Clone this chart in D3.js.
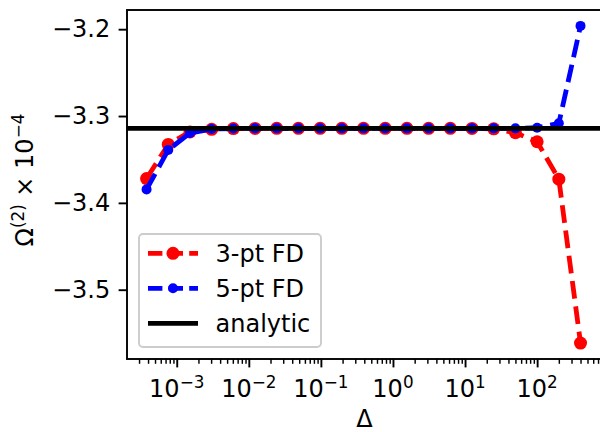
<!DOCTYPE html>
<html>
<head>
<meta charset="utf-8">
<script src="https://cdn.jsdelivr.net/npm/d3@7"></script>
<style>
  body { margin: 0; background: #fff; }
  text { font-family: "DejaVu Sans", sans-serif; fill: #000; }
</style>
</head>
<body>
<svg width="600" height="432"></svg>
<script>
// step sizes (Delta), halving each time
var delta = [0.000381469726562, 0.000762939453125, 0.00152587890625, 0.0030517578125,
  0.006103515625, 0.01220703125, 0.0244140625, 0.048828125, 0.09765625, 0.1953125,
  0.390625, 0.78125, 1.5625, 3.125, 6.25, 12.5, 25, 50, 100, 200, 400];

// Omega^(2) x 10^-4
var fd3 = [-3.3720, -3.3327, -3.3183, -3.3153, -3.3145, -3.3143, -3.3142, -3.3142,
  -3.3142, -3.3142, -3.3142, -3.3142, -3.3142, -3.3142, -3.3142, -3.3143, -3.3147,
  -3.3192, -3.3296, -3.3727, -3.5615];
var fd5 = [-3.3845, -3.3390, -3.3195, -3.3150, -3.3144, -3.3142, -3.3142, -3.3142,
  -3.3142, -3.3142, -3.3142, -3.3142, -3.3142, -3.3142, -3.3142, -3.3142, -3.3142,
  -3.3142, -3.3135, -3.3084, -3.1962];
var analytic = -3.3142;

var yTicks = [-3.2, -3.3, -3.4, -3.5];
var xTickPowers = [-3, -2, -1, 0, 1, 2];
var seriesNames = ["3-pt FD", "5-pt FD", "analytic"];

var svg = d3.select("svg");
var axLeft = 127, axTop = 10, axRight = 602, axBottom = 359;
var fontSize = 24, supSize = 16.8, supShift = 8.7;
var lw = 4.8, dash = "17.8,7.7";

var x = d3.scaleLog().domain([Math.pow(10, -3.69), Math.pow(10, 2.90)]).range([axLeft, axRight]);
var y = d3.scaleLinear().domain([-3.5798, -3.1779]).range([axBottom, axTop]);

//writes a text made of normal and superscript parts
function mathText(sel, parts) {
  var shifted = false;
  parts.forEach(function (p) {
    var t = sel.append("tspan").text(p[0]);
    if (p[1]) {
      t.attr("font-size", supSize).attr("dy", shifted ? 0 : -supShift);
      shifted = true;
    } else {
      t.attr("font-size", fontSize);
      if (shifted) t.attr("dy", supShift);
      shifted = false;
    }
  });
}

// x ticks: majors at powers of ten, minors on 2..9
var majors = xTickPowers.map(function (p) { return Math.pow(10, p); });
var minors = x.ticks().filter(function (v) {
  var m = Math.round(v / Math.pow(10, Math.floor(Math.log10(v) + 1e-9)));
  return m !== 1;
});

svg.append("g")
  .attr("transform", "translate(0," + axBottom + ")")
  .call(d3.axisBottom(x).tickValues(minors).tickSize(4.8).tickSizeOuter(0).tickFormat(""))
  .call(function (g) {
    g.select(".domain").remove();
    g.selectAll("line").attr("stroke", "#000").attr("stroke-width", 1.44);
  });

var xAxis = svg.append("g")
  .attr("transform", "translate(0," + axBottom + ")")
  .call(d3.axisBottom(x).tickValues(majors).tickSize(8.4).tickSizeOuter(0).tickFormat(""));
xAxis.select(".domain").remove();
xAxis.selectAll("line").attr("stroke", "#000").attr("stroke-width", 1.9);

xTickPowers.forEach(function (p) {
  var t = svg.append("text")
    .attr("x", x(Math.pow(10, p)))
    .attr("y", 396.7)
    .attr("text-anchor", "middle");
  mathText(t, [["10", false], [(p < 0 ? "\u2212" : "") + Math.abs(p), true]]);
});

// y ticks
var yAxis = svg.append("g")
  .attr("transform", "translate(" + axLeft + ",0)")
  .call(d3.axisLeft(y).tickValues(yTicks).tickSize(8.4).tickSizeOuter(0).tickPadding(8.4)
    .tickFormat(function (d) { return d3.format(".1f")(d).replace("-", "\u2212"); }));
yAxis.select(".domain").remove();
yAxis.selectAll("line").attr("stroke", "#000").attr("stroke-width", 1.9);
yAxis.selectAll("text")
  .attr("font-size", fontSize)
  .attr("font-family", "DejaVu Sans")
  .attr("fill", "#000");

// axis labels
svg.append("text")
  .attr("x", (axLeft + axRight) / 2)
  .attr("y", 427)
  .attr("text-anchor", "middle")
  .attr("font-size", fontSize)
  .text("\u0394");

var yl = svg.append("text")
  .attr("transform", "translate(33,180) rotate(-90)")
  .attr("text-anchor", "middle");
mathText(yl, [["\u03A9", false], ["(2)", true], [" \u00D7 10", false], ["\u22124", true]]);

// data series
var line = d3.line()
  .x(function (d) { return x(d[0]); })
  .y(function (d) { return y(d[1]); });

function drawSeries(values, color, r) {
  var pts = delta.map(function (d, i) { return [d, values[i]]; });
  svg.append("path")
    .datum(pts)
    .attr("d", line)
    .attr("fill", "none")
    .attr("stroke", color)
    .attr("stroke-width", lw)
    .attr("stroke-dasharray", dash);
  svg.append("g").selectAll("circle")
    .data(pts)
    .enter().append("circle")
    .attr("cx", function (d) { return x(d[0]); })
    .attr("cy", function (d) { return y(d[1]); })
    .attr("r", r)
    .attr("fill", color);
}

drawSeries(fd3, "#ff0000", 6.5);
drawSeries(fd5, "#0000ff", 5);

svg.append("line")
  .attr("x1", axLeft).attr("x2", axRight)
  .attr("y1", y(analytic)).attr("y2", y(analytic))
  .attr("stroke", "#000")
  .attr("stroke-width", lw);

// spines (right one falls just outside the picture)
svg.append("rect")
  .attr("x", axLeft).attr("y", axTop)
  .attr("width", axRight - axLeft).attr("height", axBottom - axTop)
  .attr("fill", "none")
  .attr("stroke", "#000")
  .attr("stroke-width", 1.9);

// legend
var legend = svg.append("g");
legend.append("rect")
  .attr("x", 139).attr("y", 234)
  .attr("width", 182).attr("height", 113)
  .attr("rx", 4)
  .attr("fill", "#fff").attr("fill-opacity", 0.8)
  .attr("stroke", "#cccccc").attr("stroke-width", 1.9);

var legendStyle = [
  { color: "#ff0000", dash: "14.4,6.2", r: 6.5 },
  { color: "#0000ff", dash: "14.4,6.2", r: 5 },
  { color: "#000", dash: null, r: 0 }
];

seriesNames.forEach(function (name, i) {
  var base = 262 + i * 35, cy = base - 8.7, s = legendStyle[i];
  legend.append("line")
    .attr("x1", 148).attr("x2", 198)
    .attr("y1", cy).attr("y2", cy)
    .attr("stroke", s.color)
    .attr("stroke-width", lw)
    .attr("stroke-dasharray", s.dash);
  if (s.r) {
    legend.append("circle").attr("cx", 173).attr("cy", cy).attr("r", s.r).attr("fill", s.color);
  }
  legend.append("text")
    .attr("x", 215.5).attr("y", base)
    .attr("font-size", fontSize)
    .text(name);
});
</script>
</body>
</html>
